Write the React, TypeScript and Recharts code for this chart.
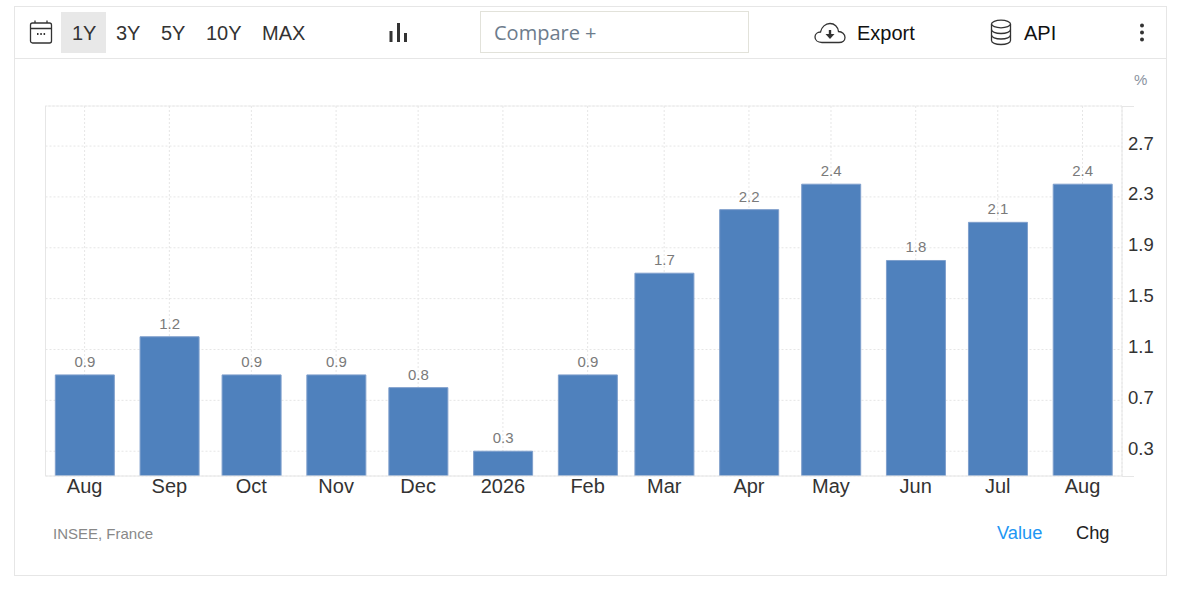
import React from 'react';
import { BarChart, Bar, XAxis, YAxis, CartesianGrid, LabelList, ReferenceLine } from 'recharts';

const months = ['Aug', 'Sep', 'Oct', 'Nov', 'Dec', '2026', 'Feb', 'Mar', 'Apr', 'May', 'Jun', 'Jul', 'Aug'];
const dates = [
  '2025-08-01', '2025-09-01', '2025-10-01', '2025-11-01', '2025-12-01', '2026-01-01', '2026-02-01',
  '2026-03-01', '2026-04-01', '2026-05-01', '2026-06-01', '2026-07-01', '2026-08-01',
];
const values = [0.9, 1.2, 0.9, 0.9, 0.8, 0.3, 0.9, 1.7, 2.2, 2.4, 1.8, 2.1, 2.4];
const yTicks = [0.3, 0.7, 1.1, 1.5, 1.9, 2.3, 2.7];
const ranges = [
  { label: '1Y', x: 72 },
  { label: '3Y', x: 116 },
  { label: '5Y', x: 161 },
  { label: '10Y', x: 206 },
  { label: 'MAX', x: 262 },
];

const FONT = '"Liberation Sans", Arial, sans-serif';
const DAY = 86400000;
const times = dates.map((d) => Date.parse(d));
const data = times.map((t, i) => ({ t, value: values[i] }));
const xDomain = [times[0] - 14.3 * DAY, times[times.length - 1] + 14.45 * DAY];
const yDomain = [0.105, 3.015];
const GRID = '#e6e6e6';

function XTick({ x, y, payload }: any) {
  const i = times.indexOf(payload.value);
  return (
    <text x={x} y={y + 9} textAnchor="middle" fontSize={20} fontFamily={FONT} fill="#333">
      {months[i]}
    </text>
  );
}

function YTick({ x, y, payload }: any) {
  return (
    <text x={x} y={y + 3.5} textAnchor="start" fontSize={18.5} fontFamily={FONT} fill="#333">
      {payload.value.toFixed(1)}
    </text>
  );
}

function Label({ x, y, color, size, children }: any) {
  return (
    <span
      style={{
        position: 'absolute',
        left: x,
        top: y,
        transform: 'translateY(-50%)',
        color,
        fontSize: size,
        lineHeight: 1,
        whiteSpace: 'nowrap',
      }}
    >
      {children}
    </span>
  );
}

function Icon({ x, y, w, h, children }: any) {
  return (
    <svg
      width={w}
      height={h}
      viewBox={`0 0 ${w} ${h}`}
      style={{ position: 'absolute', left: x, top: y }}
      fill="none"
      stroke="#333"
      strokeWidth={1.3}
    >
      {children}
    </svg>
  );
}

function Toolbar() {
  return (
    <>
      <div style={{ position: 'absolute', left: 14, top: 58, width: 1153, height: 1, background: GRID }} />
      <div style={{ position: 'absolute', left: 61, top: 12, width: 45, height: 41, background: '#e8e8e8' }} />
      <Icon x={29} y={19} w={24} h={26}>
        <rect x="1.5" y="4" width="21" height="20" rx="2" />
        <path d="M1.5 9.5H22.5M6 1.5V4M18 1.5V4" />
        <path d="M8 15H9.5M11.3 15H12.8M14.6 15H16.1" strokeWidth={1.8} />
      </Icon>
      {ranges.map((r) => (
        <Label key={r.label} x={r.x} y={32.5} color="#333" size={20}>
          {r.label}
        </Label>
      ))}
      <Icon x={389} y={22} w={19} h={21}>
        <path d="M2 9V20M9.5 1V20M16.5 11V20" strokeWidth={3} />
      </Icon>
      <div
        style={{
          position: 'absolute',
          left: 480,
          top: 11,
          width: 269,
          height: 42,
          boxSizing: 'border-box',
          border: '1px solid #e2e2da',
        }}
      />
      <span
        style={{
          position: 'absolute',
          left: 494,
          top: 33,
          transform: 'translateY(-50%)',
          fontFamily: '"Open Sans", sans-serif',
          fontSize: 20,
          lineHeight: 1,
          color: '#6d7c8c',
        }}
      >
        Compare +
      </span>
      <Icon x={814} y={22} w={32} h={22}>
        <path d="M8 20.5C3.5 20.5 1 18 1 15C1 12 3.5 10 6.5 10C7.5 5 11.5 1.5 16 1.5C20.5 1.5 24 5 24.5 9.5C28 9.5 31 12 31 15.5C31 18.5 28.5 20.5 25 20.5Z" />
        <path d="M16 8V12.5" strokeWidth={2.4} />
        <path d="M11.5 12H20.5L16 17Z" fill="#333" stroke="none" />
      </Icon>
      <Label x={857} y={32.5} color="#111" size={20}>
        Export
      </Label>
      <Icon x={990} y={19} w={22} h={27}>
        <ellipse cx="11" cy="5" rx="9.5" ry="3.8" />
        <path d="M1.5 5V21.5C1.5 23.8 5.5 25.5 11 25.5C16.5 25.5 20.5 23.8 20.5 21.5V5" />
        <path d="M1.5 10.5C1.5 12.8 5.5 14.5 11 14.5C16.5 14.5 20.5 12.8 20.5 10.5" />
        <path d="M1.5 16C1.5 18.3 5.5 20 11 20C16.5 20 20.5 18.3 20.5 16" />
      </Icon>
      <Label x={1024} y={32.5} color="#111" size={20}>
        API
      </Label>
      <Icon x={1136.5} y={22} w={10} h={21}>
        <circle cx="5" cy="3.5" r="2" fill="#333" stroke="none" />
        <circle cx="5" cy="10.5" r="2" fill="#333" stroke="none" />
        <circle cx="5" cy="17.5" r="2" fill="#333" stroke="none" />
      </Icon>
    </>
  );
}

export default function App() {
  return (
    <div style={{ position: 'absolute', left: 0, top: 0, width: 1190, height: 589, fontFamily: FONT, background: '#fff' }}>
      <div
        style={{
          position: 'absolute',
          left: 14,
          top: 6,
          width: 1153,
          height: 570,
          boxSizing: 'border-box',
          border: `1px solid ${GRID}`,
        }}
      />
      <Toolbar />
      <div style={{ position: 'absolute', left: 0, top: 0 }}>
        <BarChart
          width={1190}
          height={589}
          data={data}
          margin={{ top: 106, right: 0, left: 45.5, bottom: 83 }}
        >
          <CartesianGrid stroke={GRID} strokeDasharray="2 2" />
          <XAxis
            dataKey="t"
            type="number"
            scale="linear"
            domain={xDomain}
            ticks={times}
            height={30}
            interval={0}
            allowDataOverflow
            tickLine={false}
            axisLine={{ stroke: GRID }}
            tick={<XTick />}
          />
          <YAxis
            orientation="right"
            type="number"
            domain={yDomain}
            ticks={yTicks}
            width={68}
            interval={0}
            allowDataOverflow
            tickLine={false}
            tickMargin={0}
            axisLine={{ stroke: GRID }}
            tick={<YTick />}
          />
          <ReferenceLine y={yDomain[1]} stroke={GRID} strokeDasharray="2 2" />
          <ReferenceLine x={xDomain[0]} stroke={GRID} />
          <Bar dataKey="value" barSize={59} fill="#4f81bd" stroke="#7f9fcc" isAnimationActive={false}>
            <LabelList
              dataKey="value"
              position="top"
              offset={8}
              fontSize={15}
              fontFamily={FONT}
              fill="#7a7a7a"
              formatter={(v: any) => v.toFixed(1)}
            />
          </Bar>
        </BarChart>
      </div>
      <div style={{ position: 'absolute', left: 1122, top: 106, width: 12, height: 1, background: GRID }} />
      <div style={{ position: 'absolute', left: 1122, top: 476, width: 12, height: 1, background: GRID }} />
      <Label x={1134} y={79} color="#8a93a0" size={15}>
        %
      </Label>
      <Label x={53} y={533} color="#888" size={15}>
        INSEE, France
      </Label>
      <Label x={997} y={533} color="#2196f3" size={18.3}>
        Value
      </Label>
      <Label x={1076} y={533} color="#222" size={18.3}>
        Chg
      </Label>
    </div>
  );
}
